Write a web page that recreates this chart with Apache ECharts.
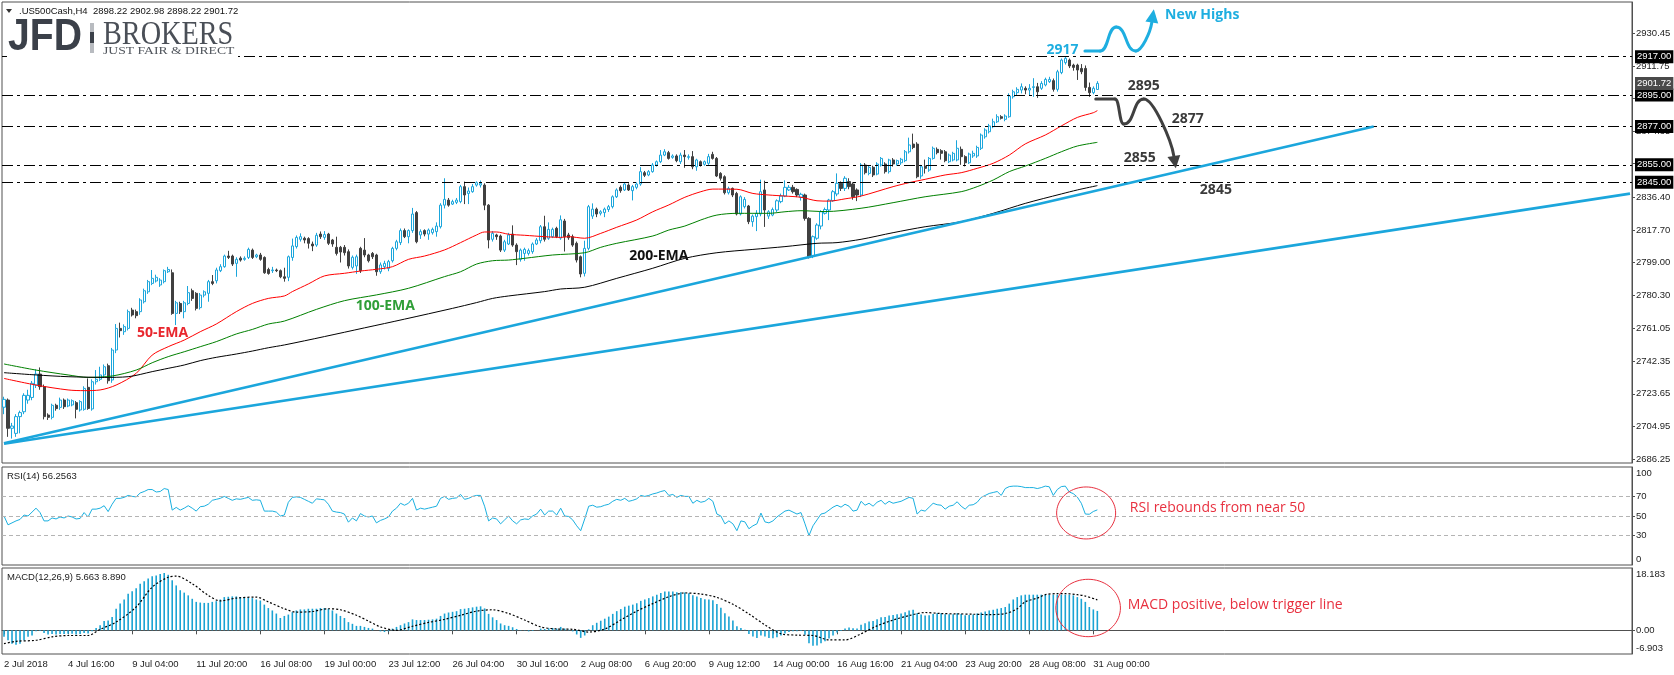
<!DOCTYPE html>
<html><head><meta charset="utf-8">
<script src="https://cdn.jsdelivr.net/npm/echarts@6/dist/echarts.min.js"></script>
<style>html,body{margin:0;padding:0;background:#fff}#c{width:1674px;height:675px}</style>
</head><body><div id="c"></div>
<script>
// ---------- DATA ----------
const tickLabels = ['2 Jul 2018','4 Jul 16:00','9 Jul 04:00','11 Jul 20:00','16 Jul 08:00','19 Jul 00:00','23 Jul 12:00','26 Jul 04:00','30 Jul 16:00','2 Aug 08:00','6 Aug 20:00','9 Aug 12:00','14 Aug 00:00','16 Aug 16:00','21 Aug 04:00','23 Aug 20:00','28 Aug 08:00','31 Aug 00:00'];
const priceTicks = [2930.45,2911.75,2893.05,2874.35,2855.65,2836.40,2817.70,2799.00,2780.30,2761.05,2742.35,2723.65,2704.95,2686.25];
const levels = [2917, 2895, 2877, 2855, 2845];
const lastPrice = 2901.72;
// candles: [open, high, low, close]
const candles = [
[2716,2722,2712,2720.5],[2720.1,2721,2699,2703.9],[2703.9,2707,2698,2705.2],[2701,2712,2699,2710.6],[2710.6,2714,2701,2712.9],
[2713.4,2724,2712,2722.8],[2720.1,2726,2718,2722.8],[2721.6,2731,2720,2729.7],[2728.7,2737.7,2727,2735.0],[2735.0,2738.8,2726,2727.8],
[2727.8,2729,2709,2710.6],[2711.5,2712.5,2708.7,2710.2],[2710.2,2718,2709,2717.1],[2717.1,2718,2714,2715.2],[2715.9,2721.5,2714.5,2720.1],
[2720.1,2721,2715,2716.3],[2716.7,2721,2716,2720.1],[2717.3,2720.5,2716.5,2719.7],[2718.6,2719.5,2709.6,2714.8],[2714.4,2720,2713.5,2719.2],
[2714.8,2728,2714,2726.8],[2727.4,2732.5,2714.5,2715.3],[2715.0,2732,2714,2730.6],[2730.6,2737.3,2729,2732.0],[2732.0,2739.2,2731,2734.5],
[2734.5,2740.5,2733,2739.2],[2739.8,2741,2729.5,2731.2],[2731.6,2750,2730,2748.8],[2748.8,2763.7,2747,2761.2],[2761.2,2764.5,2756,2759.9],
[2759.3,2763.5,2757.5,2762.2],[2761.2,2772,2760,2770.8],[2771.7,2773,2768,2768.9],[2770.8,2772,2767,2768.5],[2770.8,2778.5,2769,2777.5],
[2776.5,2784,2775.5,2782.8],[2782.2,2789,2781,2788.0],[2787.0,2794.7,2786,2789.9],[2788.4,2792,2787.5,2790.5],[2786.1,2790,2785,2788.9],
[2788.0,2795,2787,2794.3],[2793.7,2796.5,2793,2795.0],[2793.1,2795.0,2769,2769.8],[2769.8,2777,2763.1,2775.9],[2775.5,2776.5,2769.5,2770.8],
[2770.8,2777,2767,2775.9],[2775.5,2785.5,2774.5,2781.7],[2782.8,2784,2777,2778.4],[2781.3,2782,2771.5,2772.7],[2773.1,2781.5,2772,2780.3],
[2780.3,2783,2779,2782.2],[2781.3,2789,2776.5,2788.0],[2788.0,2791.8,2786,2787.0],[2788.5,2796,2787,2794.7],[2794.3,2798,2793.5,2796.6],
[2796.6,2803.5,2796,2802.7],[2802.7,2805.7,2801,2801.9],[2802.7,2803.5,2797,2798.1],[2798.5,2802,2790.8,2800.8],[2801.5,2802.5,2799.5,2800.4],
[2800.8,2802.5,2800,2801.4],[2801.9,2807.5,2801,2806.5],[2806.1,2807,2801,2801.9],[2802.3,2804,2801.5,2803.3],[2803.3,2804.5,2800,2800.8],
[2801.9,2802.5,2792.5,2793.1],[2795.0,2796,2792,2792.7],[2794.3,2796.5,2793,2794.7],[2794.7,2795.5,2793.5,2794.3],[2794.3,2795,2790,2790.8],
[2790.8,2796,2788,2789.9],[2790.5,2803,2788.3,2802.3],[2801.9,2812.7,2800,2808.5],[2808.1,2814.5,2807,2813.4],[2812.3,2815.7,2811,2813.8],
[2812.9,2813.8,2810,2811.9],[2812.7,2813.5,2807,2810.0],[2809.6,2811,2805.5,2808.5],[2809.0,2816,2808,2814.6],[2815.3,2816.8,2812.5,2813.8],
[2813.4,2817,2812,2815.0],[2815.3,2816,2809,2810.0],[2811.9,2812.5,2808,2809.6],[2807.7,2813.8,2803,2804.2],[2807.7,2808.5,2799,2805.0],
[2807.7,2809,2803,2804.6],[2805.2,2806.5,2795.5,2797.0],[2796.2,2803,2795,2802.0],[2797.0,2803.5,2792.5,2802.3],[2807.1,2808,2793,2794.3],
[2806.1,2813,2802,2803.3],[2803.3,2804,2799,2800.0],[2804.2,2805,2801,2802.3],[2803.3,2804,2791.4,2793.7],[2793.7,2799,2792.5,2797.6],
[2796.6,2800,2795,2798.5],[2795.6,2800.5,2794,2799.5],[2800.0,2808,2799,2807.1],[2807.1,2812,2806,2810.9],[2810.4,2818.5,2809,2817.3],
[2817.3,2818.5,2813,2813.8],[2813.8,2818,2810,2817.3],[2817.3,2830.3,2816,2826.8],[2827.6,2828.5,2810,2810.9],[2814.8,2818,2812.5,2816.7],
[2817.3,2818,2814,2815.3],[2815.3,2818.5,2812,2817.6],[2816.1,2819,2815,2818.0],[2816.7,2822,2813.8,2819.9],[2819.5,2833,2818.5,2831.9],
[2831.9,2847.3,2830,2835.2],[2834.8,2836,2831,2831.9],[2832.5,2835,2832,2833.9],[2833.5,2836,2832.5,2834.8],[2833.9,2843.5,2833,2842.5],
[2842.5,2845.4,2832.5,2837.7],[2838.6,2842,2832.5,2840.0],[2839.6,2844,2839,2842.5],[2843.4,2845.5,2842.5,2844.8],[2843.4,2846,2842,2844.4],
[2843.4,2844.4,2829,2831.9],[2831.9,2832.5,2807.1,2811.9],[2812.3,2817,2811,2815.7],[2814.8,2815.5,2812,2813.8],[2814.2,2815,2805,2806.1],
[2806.1,2812,2805,2810.9],[2809.6,2816,2809,2814.8],[2815.3,2820.3,2808,2809.0],[2809.0,2810,2797.5,2805.2],[2800.8,2807,2799.5,2806.1],
[2804.2,2807.5,2800,2806.5],[2804.2,2807,2803,2805.8],[2805.2,2810.5,2804,2809.6],[2809.6,2813,2809,2811.9],[2811.5,2820.5,2810,2819.5],
[2819.5,2825.8,2811,2812.3],[2812.9,2822,2812,2818.0],[2813.8,2819,2813,2818.0],[2818.6,2819.5,2813,2813.8],[2813,2826,2812,2823.5],
[2822.8,2824,2805.3,2813.8],[2814.8,2816,2812,2813.2],[2813.8,2815,2808,2809.0],[2810.0,2811,2799,2800.4],[2802.3,2803,2790.5,2792.4],
[2792.8,2811.5,2791,2807.1],[2807.1,2832,2806,2831.0],[2825.6,2832.9,2824,2829.6],[2829.6,2830.5,2825,2826.8],[2827.2,2829,2826,2828.1],
[2827.6,2830.5,2825,2829.6],[2829.4,2832,2828,2831.0],[2831.0,2837.5,2830,2836.7],[2836.7,2841.5,2836,2840.6],[2842.1,2843.2,2839,2840.2],
[2840.6,2845,2840,2844.0],[2843.4,2844.4,2840,2840.6],[2840.2,2843.5,2834.6,2842.5],[2842.1,2845,2841,2844.0],[2844.0,2853.7,2843,2851.1],
[2850.5,2851.5,2848,2849.0],[2849.2,2852,2848.5,2851.1],[2851.1,2856,2850.5,2854.9],[2854.9,2857.5,2854,2856.8],[2856.8,2863.5,2856,2860.6],
[2860.6,2864,2860,2862.5],[2862.0,2863,2858,2858.7],[2859.3,2861,2858.5,2860.1],[2860.1,2861,2856.5,2857.4],[2856.8,2862,2855.5,2860.6],
[2860.6,2863.5,2853.3,2859.7],[2859.3,2861,2858,2859.7],[2859.7,2862.9,2852.5,2853.9],[2853.9,2858.5,2851.6,2857.8],[2856.8,2857.5,2854,2854.9],
[2855.3,2857.5,2854.5,2856.8],[2855.9,2861.3,2855,2859.7],[2861.0,2862.5,2858,2858.7],[2858.7,2859.5,2848,2848.6],[2850.1,2850.8,2846,2847.3],
[2848.2,2849,2838,2839.0],[2839.0,2842.5,2838,2841.5],[2841.5,2842,2836.5,2837.7],[2838.6,2839.5,2826,2826.8],[2826.8,2837.5,2826,2836.7],
[2831.0,2836.5,2830,2835.2],[2831.4,2832,2821,2822.4],[2822.4,2826.5,2819.5,2825.6],[2825.3,2829,2817,2827.2],[2826.8,2846.5,2825.5,2839.6],
[2840.6,2845.9,2819.4,2829.1],[2825.6,2829,2824,2828.1],[2826.2,2830.5,2825.5,2829.4],[2829.1,2835.2,2828,2834.4],[2833.9,2838.5,2833,2837.1],
[2837.1,2846.1,2836.5,2842.1],[2840.6,2843.4,2840,2842.1],[2842.1,2843.5,2838.5,2839.6],[2840.9,2841.5,2836.5,2837.7],[2836.4,2839,2834.5,2838.1],
[2837.7,2838.5,2823,2824.3],[2824.3,2825,2801.3,2802.3],[2802.7,2814.5,2801.5,2813.8],[2812.9,2821.5,2812,2820.5],[2819.9,2829,2818,2828.1],
[2827.2,2830.5,2826.5,2829.4],[2829.1,2835.5,2823.3,2834.8],[2834.4,2840.5,2833.8,2839.6],[2838.3,2850.1,2837,2844.4],[2844.4,2845.5,2840,2841.5],
[2841.5,2848.5,2840,2847.3],[2845.4,2847.3,2841,2842.5],[2844.0,2845,2835,2836.7],[2840.6,2841.5,2834.2,2837.7],[2837.7,2856,2836.5,2854.9],
[2854.9,2856,2849.5,2850.5],[2850.1,2854.5,2849,2853.6],[2853.6,2854.5,2848,2849.2],[2849.7,2856.5,2849,2855.5],[2854.9,2859.5,2854,2858.7],
[2855.5,2856.5,2850,2851.1],[2851.1,2858.5,2850,2857.8],[2857.8,2858.9,2854,2855.5],[2855.5,2858,2854.5,2857.4],[2856.2,2859,2855,2858.2],
[2857.4,2863.5,2856.5,2862.5],[2862.5,2870.6,2861.5,2866.4],[2866.9,2872.9,2864,2865.0],[2866.9,2868,2847.3,2848.2],[2848.6,2855,2847,2853.9],
[2854.3,2858,2850,2853.0],[2852.0,2859.5,2851,2858.7],[2858.7,2865.5,2858,2864.5],[2863.9,2865,2861,2862.0],[2863.1,2864,2858,2861.6],
[2862.5,2863.5,2856.5,2857.4],[2856.8,2861.5,2856,2860.6],[2857.8,2862.5,2857,2861.6],[2857.8,2869.1,2857,2864.5],[2863.9,2865.5,2855,2859.7],
[2859.7,2860.5,2854.1,2856.2],[2856.2,2862,2855.5,2861.2],[2860.1,2863.1,2859,2861.6],[2860.1,2866,2859,2865.0],[2864.5,2873,2863.5,2872.1],
[2871.1,2876,2870,2875.0],[2874.0,2878.5,2873,2877.3],[2876.9,2881.5,2876,2879.7],[2879.7,2884,2879,2882.6],[2882.6,2883.5,2881,2881.7],
[2881.1,2884,2880,2883.0],[2882.6,2896,2882,2894.5],[2894.1,2898.1,2893,2896.9],[2896.4,2899.5,2894.5,2898.3],[2897.9,2901.7,2896,2899.8],
[2898.9,2900,2895.5,2897.9],[2897.9,2901.3,2895,2898.9],[2899.4,2904.7,2894,2899.8],[2899.8,2902,2893.4,2896.9],[2898.9,2903,2898,2901.7],
[2900.8,2905,2900,2904.0],[2902.7,2905.5,2902,2904.0],[2903.3,2904.5,2897,2898.3],[2898.3,2909.5,2897,2908.4],[2907.9,2916,2907,2915.1],
[2913.6,2917.2,2912.5,2916.1],[2915.1,2916,2910.5,2911.7],[2912.2,2913,2909,2910.9],[2912.2,2913,2903.7,2909.4],[2910.3,2912.8,2907,2908.4],
[2910.3,2912,2897.5,2899.4],[2899.4,2902.2,2894,2896.4],[2896.4,2900,2895.5,2898.9],[2898.22,2902.98,2898.22,2901.72]
];
// moving averages read at sample bars: [bar, value]
const ema50 = [[0,2732.5],[8,2728.7],[16,2725.9],[20,2725.5],[24,2725.9],[28,2728.7],[33,2735.4],[37,2745.9],[41,2750.7],[45,2754.5],[49,2759.3],[53,2763.7],[58,2770.8],[62,2775.5],[66,2778.4],[70,2779.8],[72,2782.3],[76,2786.7],[80,2791.3],[85,2792.8],[89,2794.1],[93,2795.1],[97,2796.6],[101,2800.8],[105,2802.7],[110,2806.2],[114,2810.4],[118,2814.8],[120,2816.5],[123,2816.5],[126,2815.2],[130,2814.6],[135,2813.8],[139,2813.4],[141,2813.8],[145,2812.9],[149,2815.7],[153,2819.2],[158,2823.4],[162,2828.1],[166,2832.0],[170,2836.4],[174,2839.6],[177,2841.1],[183,2841.0],[187,2838.6],[191,2837.7],[195,2837.1],[199,2836.4],[203,2834.4],[206,2834.2],[210,2835.5],[214,2837.1],[222,2842.5],[226,2844.8],[230,2846.7],[235,2849.2],[239,2850.5],[243,2853.0],[247,2855.9],[251,2860.6],[255,2867.0],[260,2872.1],[264,2877.3],[268,2882.2],[272,2884.9],[273,2886.1]];
const ema100 = [[0,2740.8],[8,2737.3],[16,2734.5],[21,2733.1],[27,2733.9],[33,2737.3],[37,2741.5],[41,2745.0],[45,2747.8],[49,2750.7],[53,2753.6],[58,2758.0],[62,2760.6],[66,2763.7],[70,2765.4],[78,2772.1],[85,2777.1],[93,2780.4],[101,2784.2],[110,2790.9],[114,2793.7],[118,2798.1],[122,2800.0],[126,2800.4],[130,2801.4],[137,2803.3],[145,2804.6],[149,2807.7],[153,2810.0],[162,2814.2],[166,2817.6],[170,2819.9],[174,2823.4],[178,2826.2],[183,2827.2],[191,2827.2],[195,2828.1],[199,2828.7],[205,2828.2],[214,2830.1],[222,2833.3],[230,2836.7],[239,2839.6],[243,2842.5],[247,2846.3],[251,2851.1],[255,2854.3],[260,2858.7],[264,2862.5],[268,2865.8],[273,2867.9]];
const ema200 = [[0,2735.8],[8,2734.5],[16,2733.5],[25,2733.1],[31,2733.5],[37,2736.4],[41,2738.3],[45,2740.2],[49,2742.7],[53,2744.6],[58,2746.5],[62,2748.2],[66,2750.1],[70,2751.7],[80,2756.5],[90,2761.5],[100,2766.5],[112,2772.7],[118,2776.0],[122,2778.4],[126,2779.8],[135,2782.3],[139,2783.8],[145,2784.8],[153,2789.9],[162,2795.7],[170,2801.4],[178,2804.6],[187,2806.5],[195,2808.1],[203,2810.0],[208,2810.4],[214,2812.3],[222,2816.1],[230,2819.5],[239,2822.4],[247,2827.2],[255,2832.9],[264,2838.3],[268,2840.6],[273,2843.1]];
const trendUpper = [[0,2695.3],[342,2877.0]];
const trendLower = [[0,2695.0],[406,2838.5]];
const rsi = [50,41,43,45,46.5,51,50,54,58,53.5,45,45,48,47,49,48,50,49,47,47.5,53.5,49,57,57,58,60.5,54.5,62,68,68,
69,71,70,69.5,73.5,75,77,77,74.5,75,78,77,56,58.8,56,58,60.5,58,55,59.5,60,62,66,67,68,70,68,66,67.5,67,
68,69,66,66.5,66,55,55,55,54,50,51,64,69,69.5,69,67,65,63,67.5,67,66.5,62,55,54,53.5,52,43.7,48,45,52.5,
50,49,50,43,45.5,47,49,55,58,63,61,63,68,56,58,57,58,59,60,68,70,67,68,68.5,72,67,68,70,71,71,
60,45,48,47,42,46,50,45,42,46,47,46.5,50,52,57,51,55,55,51,58,50,49.5,46,40,35,47,60,61,59,59.5,
61,62,65,67,66,68,65,66,67.5,71,70,71,72.5,73.5,75,76,71,72,69,71,70,70,63,66,64,65,68,65,52,50,
42,45,42,35,45,44,37,40,42,53,44,43,45,49,52,55,56,54,52,53.5,42,30,40,46,52,53,56,59,61,59,
62,60,55,56,65,61,63,60,64,66,62,65,63,64,65,67,69,68,52,56,55,59,63,61.5,61,57,60,61,64.5,60,
57,61,61.5,64,69,71,73,74,75,71,78,80,80.5,80.5,80,79,79,79,78,79,80.5,79.8,71,77,80,80.5,74.5,72.8,69.3,63,
52,51.8,54.6,56.26];
const rsiLevels = [70, 50, 30];
const macd = [-1.9,-2.9,-3.9,-4.2,-3.9,-2.9,-1.9,-1.5,-0.3,-0.2,-0.8,-1.2,-1.1,-1.2,-1.1,-1.1,-1.0,-1.0,-1.2,-1.1,
-0.8,-0.9,-0.3,0.7,1.5,2.7,2.9,3.9,6.3,7.8,9.0,10.7,11.4,12.3,13.6,14.3,15.1,15.8,16.0,16.4,
16.7,16.2,14.6,13.1,11.7,11.0,10.2,9.2,8.3,8.1,8.0,8.0,8.3,8.5,9.0,9.7,9.8,9.9,9.9,9.7,
9.7,9.5,9.4,9.0,8.7,7.5,6.5,5.8,4.9,3.6,4.2,4.6,5.3,5.8,6.1,6.1,6.3,6.3,6.3,6.5,
6.5,6.3,5.8,4.9,4.2,3.6,2.4,1.9,1.3,1.3,1.0,0.7,0.5,0.0,-0.3,-0.5,-0.3,0.5,1.0,1.5,
2.0,2.4,3.2,3.0,3.0,3.0,3.1,3.2,3.4,4.2,4.9,5.2,5.4,5.6,6.2,6.3,6.5,6.7,6.9,7.0,
6.4,4.8,3.8,3.0,2.0,1.5,1.3,0.9,0.4,0.1,-0.1,-0.3,-0.2,0.0,0.5,0.4,0.6,0.7,0.5,1.0,
0.5,0.2,-0.3,-1.2,-2.2,-1.5,0.3,1.5,2.2,2.8,3.4,4.0,4.8,5.6,6.2,6.9,7.2,7.5,7.9,8.6,
9.0,9.4,9.9,10.4,10.9,11.3,11.3,11.3,11.1,11.1,11.0,10.8,10.2,9.9,9.4,9.1,9.0,8.8,7.7,6.6,
5.0,4.0,2.9,1.2,0.7,0.2,-1.1,-1.8,-2.2,-1.5,-1.8,-2.2,-2.3,-2.0,-1.5,-0.9,-0.5,-0.3,-0.3,-0.2,
-1.3,-3.8,-4.5,-4.4,-3.8,-3.2,-2.4,-1.5,-0.6,-0.2,0.5,0.8,0.6,0.5,1.6,2.1,2.6,2.7,3.2,3.8,
3.9,4.3,4.5,4.7,4.9,5.3,5.8,6.0,5.0,4.6,4.3,4.4,4.8,5.0,5.0,4.7,4.7,4.7,5.0,4.8,
4.4,4.5,4.6,4.9,5.2,5.5,5.8,6.0,6.3,6.5,6.8,7.8,9.0,9.7,10.2,10.4,10.4,10.4,10.4,10.4,
10.4,10.4,10.4,10.4,10.4,10.4,10.4,10.2,9.7,9.2,8.3,6.8,6.1,5.663];
const macdSignal = [[0,-3.9],[3,-3.2],[8,-2.9],[12,-1.9],[16,-1.5],[21,-1.5],[24,0.3],[28,2.4],[33,6.8],[37,12.6],[41,15.5],[43,15.8],[47,13.6],[51,10.2],[54,8.6],[58,9.4],[63,9.7],[66,8.3],[70,6.3],[73,5.3],[77,5.5],[81,6.3],[84,6.0],[88,4.4],[91,2.7],[94,1.0],[98,0],[102,1.2],[106,2.3],[110,3.2],[114,4.4],[118,5.6],[122,6.0],[126,4.9],[130,3.0],[134,1.0],[138,0.4],[142,0.3],[146,-0.5],[150,0.4],[154,3.0],[158,5.6],[162,7.8],[166,9.8],[170,10.9],[174,10.6],[178,9.6],[182,7.6],[186,4.8],[190,1.6],[194,-1.0],[198,-1.4],[202,-1.5],[206,-2.8],[210,-2.8],[214,-1.0],[218,1.3],[222,3.0],[226,4.3],[230,5.2],[234,4.9],[238,4.8],[242,4.7],[246,4.6],[250,4.9],[253,6.3],[255,8.3],[258,9.4],[260,10.4],[263,10.7],[265,10.7],[268,10.4],[270,10.0],[273,8.89]];
const macdRange = [-6.903, 18.183];

// ---------- CHART ----------
const FONT = "'Liberation Sans', Arial, sans-serif";
const ANN = "'Open Sans', 'Liberation Sans', sans-serif";
const SLOTS = 407;
const cats = [];
for (let i = 0; i < SLOTS; i++) cats.push(i % 16 === 0 && i / 16 < tickLabels.length ? tickLabels[i / 16] : '');
const showTick = (idx) => idx % 16 === 0 && idx / 16 < tickLabels.length;
const BLUE = '#1ba6dc', DARK = '#404040';

const chart = echarts.init(document.getElementById('c'));
const grids = [
  {left: 2, right: 42, top: 2, height: 461},
  {left: 2, right: 42, top: 467, height: 98},
  {left: 2, right: 42, top: 568, height: 86}
].map(g => Object.assign(g, {show: true, borderColor: '#505050', borderWidth: 1, backgroundColor: '#fff'}));

const lbl = {color: '#222', fontSize: 9.5, fontFamily: FONT};
const boxLabel = (bg) => ({show: true, position: 'end', distance: 3, formatter: p => Number(p.value).toFixed(2),
  color: '#fff', backgroundColor: bg, padding: [2, 2, 1, 2], fontSize: 9.5, fontFamily: FONT});
const option = {
  animation: false,
  backgroundColor: '#ffffff',
  grid: grids,
  xAxis: [0, 1, 2].map(i => ({
    type: 'category', gridIndex: i, data: cats, boundaryGap: true, show: i === 2,
    axisLine: {lineStyle: {color: '#505050'}},
    axisTick: {show: true, alignWithLabel: true, interval: showTick, length: 4, lineStyle: {color: '#505050'}},
    axisLabel: Object.assign({interval: showTick, align: 'left', margin: 5}, lbl),
    splitLine: {show: false}
  })),
  yAxis: [
    {type: 'value', gridIndex: 0, position: 'right', min: 2684.0, max: 2948.4,
     axisLine: {show: true, lineStyle: {color: '#505050'}},
     axisTick: {show: true, customValues: priceTicks, length: 3, lineStyle: {color: '#505050'}},
     axisLabel: Object.assign({customValues: priceTicks, margin: 4, formatter: v => Number(v).toFixed(2)}, lbl),
     splitLine: {show: false}},
    {type: 'value', gridIndex: 1, position: 'right', min: 0, max: 100,
     axisLine: {show: true, lineStyle: {color: '#505050'}},
     axisTick: {show: true, customValues: rsiLevels, length: 3, lineStyle: {color: '#505050'}},
     axisLabel: Object.assign({customValues: [0, 30, 50, 70, 100], margin: 4,
       formatter: v => v === 100 ? '{t|100}' : (v === 0 ? '{b|0}' : String(v)),
       rich: {t: Object.assign({padding: [12, 0, 0, 0]}, lbl), b: Object.assign({padding: [0, 0, 12, 0]}, lbl)}}, lbl),
     splitLine: {show: false}},
    {type: 'value', gridIndex: 2, position: 'right', min: macdRange[0], max: macdRange[1],
     axisLine: {show: true, lineStyle: {color: '#505050'}},
     axisTick: {show: true, customValues: [0], length: 3, lineStyle: {color: '#505050'}},
     axisLabel: Object.assign({customValues: [macdRange[0], 0, macdRange[1]], margin: 4,
       formatter: v => Math.abs(v - macdRange[1]) < 1e-6 ? '{t|' + macdRange[1].toFixed(3) + '}' :
         (Math.abs(v - macdRange[0]) < 1e-6 ? '{b|' + macdRange[0].toFixed(3) + '}' : '0.00'),
       rich: {t: Object.assign({padding: [12, 0, 0, 0]}, lbl), b: Object.assign({padding: [0, 0, 12, 0]}, lbl)}}, lbl),
     splitLine: {show: false}}
  ],
  series: [
    {type: 'candlestick', xAxisIndex: 0, yAxisIndex: 0, barWidth: 2.6, z: 3,
     data: candles.map(c => [c[0], c[3], c[2], c[1]]),
     itemStyle: {color: '#ffffff', color0: DARK, borderColor: BLUE, borderColor0: DARK, borderWidth: 1},
     markLine: {silent: true, symbol: ['none', 'none'], animation: false,
       data: levels.map(v => ({yAxis: v, lineStyle: {color: '#000', width: 1, type: [11, 4, 3, 4]}, label: boxLabel('#000')}))
         .concat([{yAxis: lastPrice, lineStyle: {color: 'rgba(0,0,0,0)', width: 0}, label: boxLabel('#4a4a4a')}])}},
    {type: 'line', xAxisIndex: 0, yAxisIndex: 0, data: ema50, symbol: 'none', smooth: 0.3, z: 4, lineStyle: {color: '#ff0000', width: 1}},
    {type: 'line', xAxisIndex: 0, yAxisIndex: 0, data: ema100, symbol: 'none', smooth: 0.3, z: 4, lineStyle: {color: '#008000', width: 1}},
    {type: 'line', xAxisIndex: 0, yAxisIndex: 0, data: ema200, symbol: 'none', smooth: 0.3, z: 4, lineStyle: {color: '#000000', width: 1}},
    {type: 'line', xAxisIndex: 0, yAxisIndex: 0, data: trendUpper, symbol: 'none', z: 5, lineStyle: {color: BLUE, width: 2.6}},
    {type: 'line', xAxisIndex: 0, yAxisIndex: 0, data: trendLower, symbol: 'none', z: 5, lineStyle: {color: BLUE, width: 2.6}},
    {type: 'line', xAxisIndex: 1, yAxisIndex: 1, data: rsi, symbol: 'none', lineStyle: {color: '#1ab0e0', width: 1},
     markLine: {silent: true, symbol: ['none', 'none'], label: {show: false},
       lineStyle: {color: '#b4b4b4', width: 1, type: [4, 3]}, data: rsiLevels.map(v => ({yAxis: v}))}},
    {type: 'bar', xAxisIndex: 2, yAxisIndex: 2, data: macd, barWidth: 1.6, itemStyle: {color: '#1aa3d3'}},
    {type: 'line', xAxisIndex: 2, yAxisIndex: 2, data: macdSignal, symbol: 'none', smooth: 0.3, z: 4,
     lineStyle: {color: '#000', width: 1.2, type: [2, 2]}}
  ]
};
chart.setOption(option);

// ---------- ANNOTATIONS (anchored in data space) ----------
function P(g, bar, val) {
  const a = chart.convertToPixel({xAxisIndex: g, yAxisIndex: g}, [0, val]);
  const b = chart.convertToPixel({xAxisIndex: g, yAxisIndex: g}, [400, val]);
  return [a[0] + (b[0] - a[0]) * bar / 400, a[1]];
}
const G = [];
const txt = (x, y, s, font, fill, extra) => G.push(Object.assign({type: 'text', x: x, y: y, z: 200, silent: true,
  style: {text: s, font: font, fill: fill, textAlign: 'left', textVerticalAlign: 'middle'}}, extra || {}));
function seg(a, b, color, w) {
  G.push({type: 'line', z: 200, silent: true, shape: {x1: a[0], y1: a[1], x2: b[0], y2: b[1]},
    style: {stroke: color, lineWidth: w, lineCap: 'round'}});
}
function bez(a, c1, c2, b, color, w) {
  G.push({type: 'bezierCurve', z: 200, silent: true,
    shape: {x1: a[0], y1: a[1], cpx1: c1[0], cpy1: c1[1], cpx2: c2[0], cpy2: c2[1], x2: b[0], y2: b[1]},
    style: {stroke: color, lineWidth: w, fill: null, lineCap: 'round'}});
}
function sCurve(a, b, color, w) { const h = (b[0] - a[0]) * 0.55; bez(a, [a[0] + h, a[1]], [b[0] - h, b[1]], b, color, w); }
function dirTo(base, tip) { const dx = tip[0] - base[0], dy = tip[1] - base[1], L = Math.hypot(dx, dy); return [dx / L, dy / L]; }
function head(base, tip, w, color) {
  const d = dirTo(base, tip);
  const px = -d[1] * w, py = d[0] * w;
  G.push({type: 'polygon', z: 201, silent: true,
    shape: {points: [tip, [base[0] + px, base[1] + py], [base[0] - px, base[1] - py]]}, style: {fill: color}});
}

// logo + header
G.push({type: 'rect', z: 190, silent: true, shape: {x: 7, y: 16, width: 231, height: 42}, style: {fill: '#fff'}});
G.push({type: 'polygon', z: 200, silent: true, shape: {points: [[6, 9], [12, 9], [9, 13]]}, style: {fill: '#333'}});
txt(19, 11, '.US500Cash,H4  2898.22 2902.98 2898.22 2901.72', '9.5px ' + FONT, '#111');
txt(8, 38, 'JFD', 'bold 44px ' + FONT, '#3b4049', {scaleX: 0.89});
G.push({type: 'rect', z: 200, silent: true, shape: {x: 90, y: 23, width: 4, height: 30}, style: {fill: '#b8bbc0'}});
G.push({type: 'rect', z: 201, silent: true, shape: {x: 90, y: 32, width: 4, height: 11}, style: {fill: '#3b4049'}});
txt(103, 35, 'BROKERS', '34px "Liberation Serif", serif', '#4a4f57', {scaleX: 0.83});
txt(103, 51.5, 'JUST FAIR & DIRECT', '10.5px "Liberation Serif", serif', '#50555c', {scaleX: 1.3});
txt(7, 476, 'RSI(14) 56.2563', '9.5px ' + FONT, '#222');
txt(7, 577, 'MACD(12,26,9) 5.663 8.890', '9.5px ' + FONT, '#222');

// EMA labels and level labels
const notes = [
  ['50-EMA', 0, 33.2, 2758.6, '#e8262d'], ['100-EMA', 0, 87.8, 2774.3, '#2f9e37'], ['200-EMA', 0, 156.1, 2802.7, '#111111'],
  ['2917', 0, 260.3, 2921.1, '#1eaee0'], ['New Highs', 0, 289.9, 2940.7, '#1eaee0'],
  ['2895', 0, 280.6, 2900.2, '#3a3a3a'], ['2877', 0, 291.6, 2881.3, '#3a3a3a'],
  ['2855', 0, 279.6, 2858.9, '#3a3a3a'], ['2845', 0, 298.6, 2840.4, '#3a3a3a']
];
notes.forEach(n => { const p = P(n[1], n[2], n[3]); txt(p[0], p[1], n[0], 'bold 14px ' + ANN, n[4]); });

// blue "new highs" wave
{
  const C = '#1eaee0';
  const b0 = P(0, 269.9, 2920.3), b1 = P(0, 273.7, 2920.3), b2 = P(0, 277.7, 2934.0), b3 = P(0, 282.6, 2920.3);
  const bE = P(0, 286.6, 2936.6), bT = P(0, 287.1, 2944.2);
  const d = dirTo(bE, bT);
  seg(b0, b1, C, 3); sCurve(b1, b2, C, 3); sCurve(b2, b3, C, 3);
  bez(b3, [b3[0] + 6, b3[1]], [bE[0] - d[0] * 10, bE[1] - d[1] * 10], bE, C, 3);
  head(bE, bT, 6.5, C);
}
// dark "down" wave
{
  const C = '#404040';
  const d0 = P(0, 272.6, 2892.75), d1 = P(0, 277.4, 2892.75), d2 = P(0, 279.6, 2878.4), d3 = P(0, 284.6, 2892.75);
  const dE = P(0, 292.1, 2860.1), dT = P(0, 292.6, 2853.0);
  const d = dirTo(dE, dT);
  seg(d0, d1, C, 3); sCurve(d1, d2, C, 3); sCurve(d2, d3, C, 3);
  bez(d3, [d3[0] + 10, d3[1]], [dE[0] - d[0] * 15, dE[1] - d[1] * 15], dE, C, 3);
  head(dE, dT, 6.5, C);
}
// red ellipses + comments
const RED = '#e8303f';
function ellipse(c, rx, ry) {
  const pts = [];
  for (let k = 0; k <= 72; k++) { const t = k / 72 * Math.PI * 2; pts.push([c[0] + rx * Math.cos(t), c[1] + ry * Math.sin(t)]); }
  G.push({type: 'polyline', z: 200, silent: true, shape: {points: pts}, style: {stroke: RED, lineWidth: 1, fill: null}});
}
ellipse(P(1, 270.2, 53.1), 29.5, 26);
ellipse(P(2, 270.7, 6.52), 32.3, 28.7);
{ const p = P(1, 281.1, 57.7); txt(p[0], p[1], 'RSI rebounds from near 50', '14px ' + ANN, RED); }
{ const p = P(2, 280.6, 7.4); txt(p[0], p[1], 'MACD positive, below trigger line', '14px ' + ANN, RED); }

chart.setOption({graphic: {elements: G}});
</script>
</body></html>
